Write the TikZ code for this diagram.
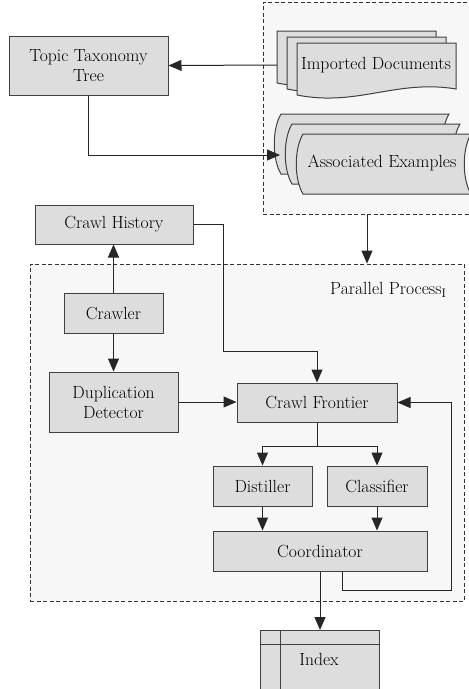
\documentclass[tikz,border=0pt]{standalone}
\usepackage{fontspec}
\usetikzlibrary{arrows.meta,calc}

\definecolor{boxgray}{HTML}{DDDDDD}
\definecolor{bggray}{HTML}{F7F7F7}
\definecolor{edgegray}{HTML}{404040}

% document sheet with a wavy bottom, top-left corner given
\newcommand{\docsheet}[2]{%
  \draw[sheet] (#1,#2) -- ++(159,0) -- ++(0,46)
    .. controls +(-59,-10) and +(60,12) .. (#1,#2+52) -- cycle;}
% stored data sheet, top-left corner given
\newcommand{\datasheet}[2]{%
  \draw[sheet] (#1,#2) -- ++(168,0)
    .. controls +(-9,15) and +(-9,-15) .. ++(0,60) -- ++(-168,0)
    .. controls +(-9,-15) and +(-9,15) .. ++(0,-60) -- cycle;}

\begin{document}
\begin{tikzpicture}[x=1pt,y=-1pt,font=\rmfamily\fontsize{17.6}{20}\selectfont,
  box/.style={draw=edgegray,fill=boxgray,line width=1pt,inner sep=0pt,align=center},
  sheet/.style={draw=edgegray,fill=boxgray,line width=1pt},
  dashbox/.style={draw=black!80,fill=bggray,line width=0.8pt,dash pattern=on 4pt off 2.5pt,inner sep=0pt},
  arr/.style={draw=black!85,line width=1pt,-{Triangle[length=13pt,width=11pt]}},
  line/.style={draw=black!85,line width=1pt}]
\useasboundingbox (0,0) rectangle (469,689);
\clip (0,0) rectangle (469,689);

% dashed areas
\node[dashbox,minimum width=217pt,minimum height=212pt] (srcbox) at (371.5,108) {};
\node[dashbox,minimum width=434pt,minimum height=337pt] (parbox) at (247,432.5) {};
\node[anchor=east] (parlab) at (450,290) {Parallel Process\textsubscript{I}};

% sources
\docsheet{277}{31}
\docsheet{287}{37}
\docsheet{297}{43}
\node (imported) at (376,65) {Imported Documents};
\coordinate (impin) at (277,65);

\datasheet{281}{114}
\datasheet{292}{124}
\datasheet{303}{134}
\node (assoc) at (382,163) {Associated Examples};
\coordinate (associn) at (280,155);

% boxes
\node[box,minimum width=159pt,minimum height=59pt] (topic) at (88.5,65.5) {Topic Taxonomy\\Tree};
\node[box,minimum width=158pt,minimum height=39pt] (history) at (114,224.5) {Crawl History};
\node[box,minimum width=99pt,minimum height=40pt] (crawler) at (113.5,313) {Crawler};
\node[box,minimum width=129pt,minimum height=60pt] (dup) at (113.5,402) {Duplication\\Detector};
\node[box,minimum width=160pt,minimum height=39pt] (frontier) at (317,402.5) {Crawl Frontier};
\node[box,minimum width=99pt,minimum height=40pt] (distiller) at (262.5,486) {Distiller};
\node[box,minimum width=100pt,minimum height=40pt] (classifier) at (377,486) {Classifier};
\node[box,minimum width=214pt,minimum height=40pt] (coord) at (320,551) {Coordinator};

% index table
\draw[sheet] (260,630) rectangle (379,700);
\draw[sheet] (260,644) -- (379,644) (280,630) -- (280,700);
\node (index) at (319,659) {Index};
\coordinate (idxtop) at (320,630);

% connectors
\draw[arr] (impin) -- (topic.east);
\draw[arr] (topic.south) |- (associn);
\draw[arr] ([xshift=-4.5pt]srcbox.south) -- ([xshift=-4.5pt]srcbox.south |- parbox.north);
\draw[arr] (crawler.north) -- (crawler.north |- history.south);
\draw[arr] (crawler.south) -- (crawler.south |- dup.north);
\draw[arr] (dup.east) -- (dup.east -| frontier.west);
\draw[arr] (history.east) -- ++(30,0) |- ([yshift=31pt]frontier.north) -- (frontier.north);
\draw[line] (frontier.south) -- ++(0,24) coordinate (split);
\draw[arr] (split) -| (distiller.north);
\draw[arr] (split) -| (classifier.north);
\draw[arr] (distiller.south) -- (distiller.south |- coord.north);
\draw[arr] (classifier.south) -- (classifier.south |- coord.north);
\draw[arr] (coord.south) -- (coord.south |- idxtop);
\draw[arr] ([xshift=22pt]coord.south) |- ++(109,19) |- (frontier.east);

\end{tikzpicture}
\end{document}
